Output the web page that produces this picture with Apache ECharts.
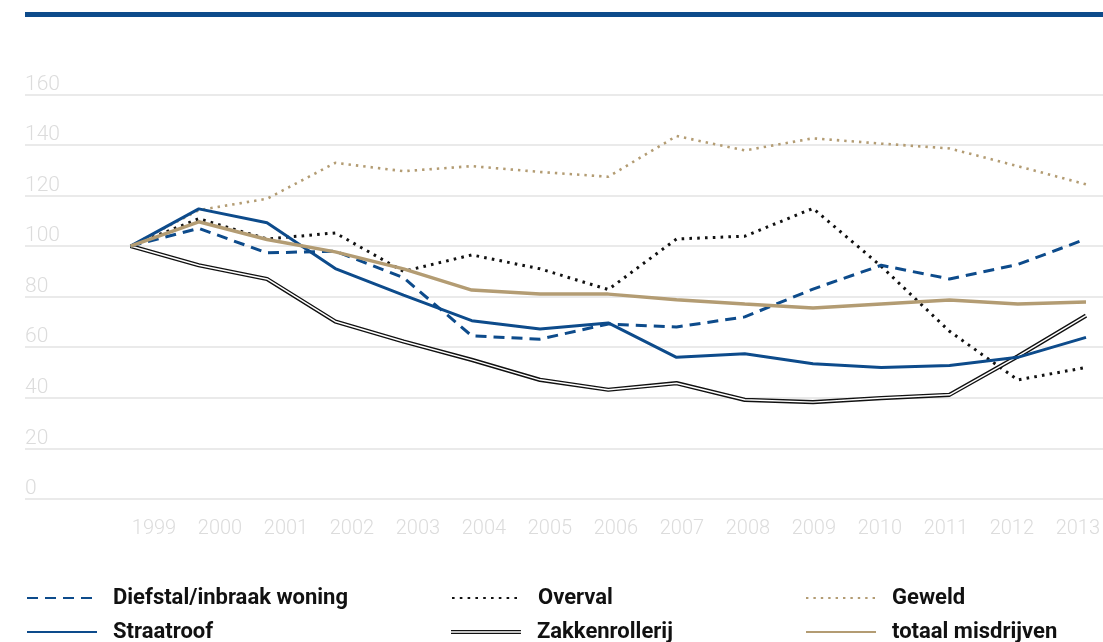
<!DOCTYPE html>
<html>
<head>
<meta charset="utf-8">
<script src="https://cdn.jsdelivr.net/npm/echarts@6/dist/echarts.min.js"></script>
<style>
html,body{margin:0;padding:0;background:#fff;}
#chart{width:1103px;height:642px;}
</style>
</head>
<body>
<div id="chart"></div>
<script>
const years = ['1999','2000','2001','2002','2003','2004','2005','2006','2007','2008','2009','2010','2011','2012','2013'];
const diefstal = [100,107,97.3,98,87.5,64.5,63.2,69.2,68,72,83,92.4,87,92.7,102.8];
const overval = [100,110.8,102.8,105.2,90,96.5,91,82.8,102.8,103.9,114.9,92,66.3,47.1,52];
const geweld = [100,114.2,118.7,132.9,129.6,131.6,129.3,127.4,143.5,137.8,142.6,140.5,138.6,131.6,124.4];
const straatroof = [100,114.7,109.2,91.1,80.6,70.5,67.2,69.6,56,57.4,53.5,52,52.8,56,63.9];
const zakkenrollerij = [100,92.4,87,70.2,62.3,55,47.1,43.2,45.8,39.2,38.3,39.9,41.2,56.4,72.5];
const totaal = [100,109.6,102.6,97.7,91,82.6,81,81,78.8,77.1,75.5,77.1,78.7,77.1,77.9];

const BLUE = '#0d4b8b';
const TAN = '#b39c73';
const BLACK = '#111111';

function pairs(arr){ return years.map((y,i)=>[Number(y), arr[i]]); }

const chart = echarts.init(document.getElementById('chart'), null, {renderer:'canvas'});

const legendText = {fontFamily:'Roboto', fontWeight:'bold', fontSize:22, color:'#111', lineHeight:20, padding:[0,0,0,11]};
const doubleIcon = 'path://M0,0H0.5V0.01H0Z M0,5.4H70V6.7H0Z M0,8.3H70V9.6H0Z M0,15H0.5V15.01H0Z';

const lineBase = {type:'line', xAxisIndex:0, yAxisIndex:0, symbol:'none', showSymbol:false, silent:true, animation:false};
function legendAt(left, top, item, extra){
  return Object.assign({orient:'horizontal', left:left, top:top, padding:0, itemWidth:70, itemHeight:15,
    textStyle:legendText, selectedMode:false, itemStyle:{opacity:0}, data:[item]}, extra || {});
}

const option = {
  animation:false,
  graphic:[{type:'rect', shape:{x:25, y:12, width:1078, height:5}, style:{fill:BLUE}, silent:true}],
  grid:[
    {left:25, right:0, top:94.3, bottom:143},
    {left:154, right:22, top:94.3, bottom:143}
  ],
  xAxis:[
    {type:'value', gridIndex:0, min:1997.454, max:2013.249, show:false},
    {type:'category', gridIndex:1, data:years, boundaryGap:false,
     axisLine:{show:false}, axisTick:{show:false}, splitLine:{show:false},
     axisLabel:{interval:0, margin:20, fontFamily:'Roboto', fontWeight:300, fontSize:20, color:'#dcdcdc'}}
  ],
  yAxis:[
    {type:'value', gridIndex:0, min:0, max:160, interval:20,
     axisLine:{show:false}, axisTick:{show:false},
     splitLine:{lineStyle:{color:'#e3e3e3', width:1.5}},
     axisLabel:{inside:true, margin:0, verticalAlign:'bottom', lineHeight:20, fontFamily:'Roboto', fontWeight:300, fontSize:21, color:'#dcdcdc'}},
    {type:'value', gridIndex:1, min:0, max:160, show:false}
  ],
  legend:[
    legendAt(26, 587, 'Diefstal/inbraak woning'),
    legendAt(26, 621, 'Straatroof'),
    legendAt(451, 587, 'Overval'),
    legendAt(451, 621, {name:'Zakkenrollerij', icon:doubleIcon}, {itemStyle:{borderWidth:0}}),
    legendAt(805, 587, 'Geweld'),
    legendAt(805, 621, 'totaal misdrijven')
  ],
  series:[
    Object.assign({}, lineBase, {name:'Geweld', data:pairs(geweld), color:TAN, lineStyle:{color:TAN, width:2.6, type:[2.4,5], cap:'butt'}, z:2}),
    Object.assign({}, lineBase, {name:'Overval', data:pairs(overval), color:BLACK, lineStyle:{color:BLACK, width:3, type:[2.6,5.2], cap:'butt'}, z:3}),
    Object.assign({}, lineBase, {name:'Zakkenrollerij', data:pairs(zakkenrollerij), color:BLACK, lineStyle:{color:BLACK, width:4.2}, z:3}),
    Object.assign({}, lineBase, {name:'Zakkenrollerij binnen', data:pairs(zakkenrollerij), color:'#ffffff', lineStyle:{color:'#ffffff', width:1.5}, z:4}),
    Object.assign({}, lineBase, {name:'Diefstal/inbraak woning', data:pairs(diefstal), color:BLUE, lineStyle:{color:BLUE, width:3, type:[11,7]}, z:5}),
    Object.assign({}, lineBase, {name:'Straatroof', data:pairs(straatroof), color:BLUE, lineStyle:{color:BLUE, width:3}, z:5}),
    Object.assign({}, lineBase, {name:'totaal misdrijven', data:pairs(totaal), color:TAN, lineStyle:{color:TAN, width:3.5}, z:6})
  ]
};
chart.setOption(option);
</script>
</body>
</html>
